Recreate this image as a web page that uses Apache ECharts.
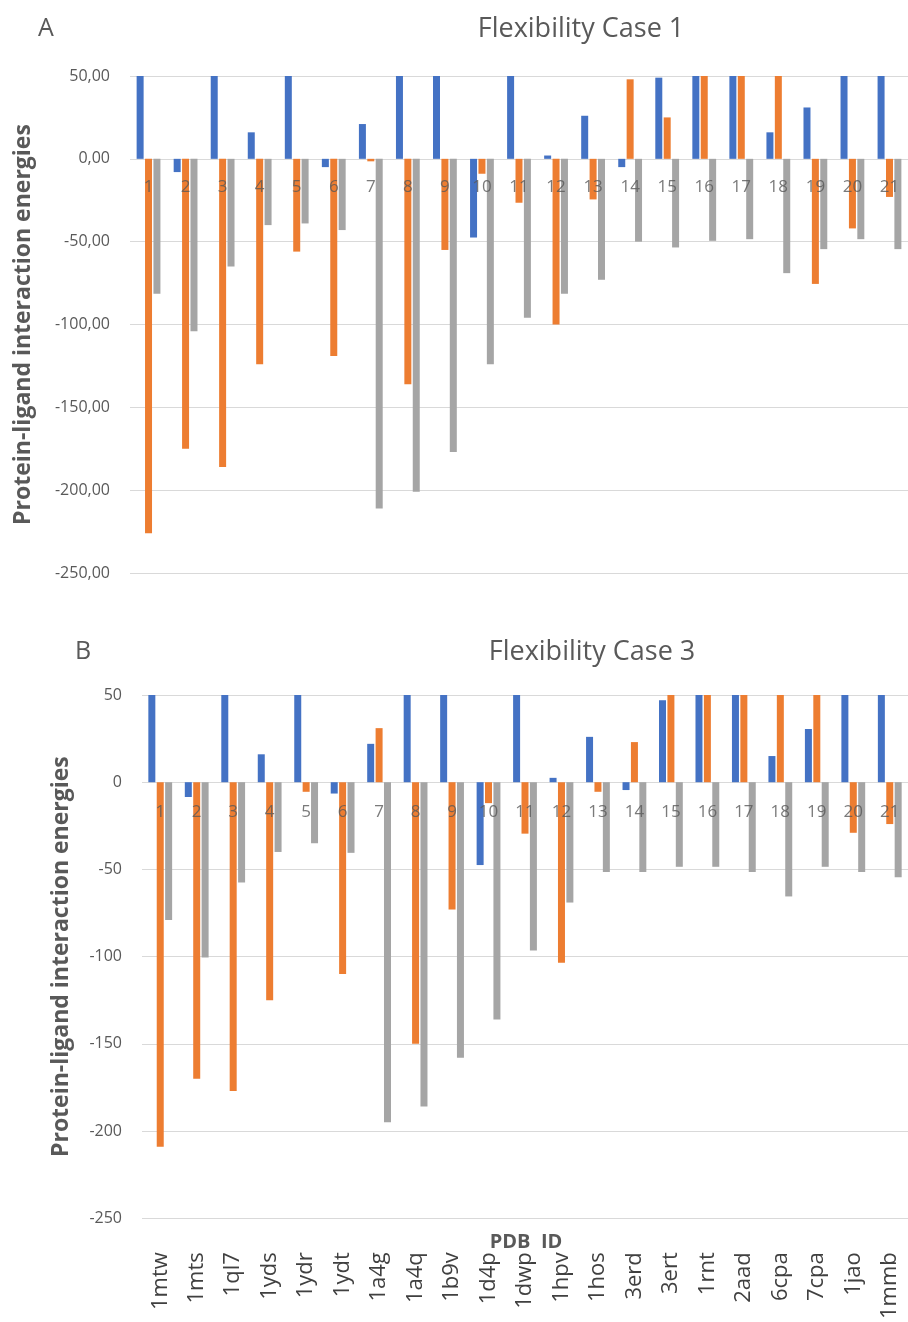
<!DOCTYPE html>
<html>
<head>
<meta charset="utf-8">
<script src="https://cdn.jsdelivr.net/npm/echarts@6.0.0/dist/echarts.min.js"></script>
<style>
  html, body { margin: 0; padding: 0; background: #fff; }
  #canvas { width: 908px; height: 1322px; }
</style>
</head>
<body>
<div id="canvas"></div>
<script>
var categories = ['1','2','3','4','5','6','7','8','9','10','11','12','13','14','15','16','17','18','19','20','21'];
var pdbIds = ['1mtw','1mts','1ql7','1yds','1ydr','1ydt','1a4g','1a4q','1b9v','1d4p','1dwp','1hpv','1hos','3erd','3ert','1rnt','2aad','6cpa','7cpa','1jao','1mmb'];
var yTicks = [-250, -200, -150, -100, -50, 0, 50];

// Flexibility Case 1 (bars above 50 are cut off by the axis)
var case1Blue = [50, -8, 50, 16, 50, -5, 21, 50, 50, -47.5, 50, 2, 26, -5, 49, 50, 50, 16, 31, 50, 50];
var case1Orange = [-226, -175, -186, -124, -56, -119, -1.5, -136, -55, -9, -26.5, -100, -24.5, 48, 25, 50, 50, 50, -75.5, -42, -23];
var case1Gray = [-81.5, -104, -65, -40, -39, -43, -211, -201, -177, -124, -96, -81.5, -73, -50, -53.5, -49.5, -48.5, -69, -54.5, -48.5, -54.5];

// Flexibility Case 3
var case3Blue = [50, -8.5, 50, 16, 50, -6.5, 22, 50, 50, -47.5, 50, 2.5, 26, -4.5, 47, 50, 50, 15, 30.5, 50, 50];
var case3Orange = [-209, -170, -177, -125, -5.5, -110, 31, -150, -73, -12, -29.5, -103.5, -5.5, 23, 50, 50, 50, 50, 50, -29, -24];
var case3Gray = [-79, -100.5, -57.5, -40, -35, -40.5, -195, -186, -158, -136, -96.5, -69, -51.5, -51.5, -48.5, -48.5, -51.5, -65.5, -48.5, -51.5, -54.5];

// the case numbers sit on the zero line
var zeroLine = categories.map(function() { return 0; });

var colors = ['#4472C4', '#ED7D31', '#A5A5A5'];
var font = '"Open Sans", sans-serif';
var textColor = '#595959';

var makeBars = function(values, idx, axisIdx) {
    return {
        type: 'bar',
        xAxisIndex: axisIdx,
        yAxisIndex: axisIdx,
        data: values,
        barWidth: 7,
        barGap: '20%',
        itemStyle: {color: colors[idx]},
        clip: true
    };
};

var makeNumbers = function(axisIdx, dist) {
    return {
        type: 'scatter',
        xAxisIndex: axisIdx,
        yAxisIndex: axisIdx,
        data: zeroLine,
        symbolSize: 1,
        itemStyle: {color: 'rgba(0,0,0,0)'},
        z: 10,
        silent: true,
        label: {
            show: true,
            position: 'bottom',
            distance: dist,
            formatter: '{b}',
            fontFamily: font,
            fontSize: 17,
            color: textColor
        }
    };
};

var makeYAxis = function(gridIdx, fmt, gap) {
    return {
        type: 'value',
        gridIndex: gridIdx,
        min: yTicks[0],
        max: yTicks[yTicks.length - 1],
        interval: 50,
        name: 'Protein-ligand interaction energies',
        nameLocation: 'middle',
        nameGap: gap,
        nameTextStyle: {fontFamily: font, fontSize: 23, fontWeight: 'bold', color: textColor},
        axisLine: {show: false},
        axisTick: {show: false},
        axisLabel: {fontFamily: font, fontSize: 16, color: textColor, margin: 20, formatter: fmt},
        splitLine: {lineStyle: {color: '#d9d9d9', width: 1}}
    };
};

var makeXAxis = function(gridIdx) {
    return {
        type: 'category',
        gridIndex: gridIdx,
        data: categories,
        axisLine: {show: false},
        axisTick: {show: false},
        axisLabel: {show: false}
    };
};

var myChart = echarts.init(document.getElementById('canvas'));

var pdbAxis = {
    type: 'category',
    gridIndex: 1,
    position: 'bottom',
    data: pdbIds,
    axisLine: {show: false, onZero: false},
    axisTick: {show: false},
    splitLine: {show: false},
    axisLabel: {fontFamily: font, fontSize: 22, color: '#404040', rotate: 90, margin: 34, interval: 0}
};

var option = {
    animation: false,
    backgroundColor: '#fff',
    grid: [
        {left: 130, right: 0, top: 76, height: 497},
        {left: 142, right: 0, top: 695, height: 526}
    ],
    xAxis: [makeXAxis(0), makeXAxis(1), pdbAxis],
    yAxis: [
        makeYAxis(0, function(v) { return v.toFixed(2).replace('.', ','); }, 95),
        makeYAxis(1, function(v) { return String(v); }, 69)
    ],
    graphic: [
        {type: 'text', left: 38, top: 16, style: {text: 'A', font: '25px ' + font, fill: textColor}},
        {type: 'text', x: 581, y: 29, style: {text: 'Flexibility Case 1', font: '27px ' + font, fill: textColor, textAlign: 'center', textVerticalAlign: 'middle'}},
        {type: 'text', left: 75, top: 639, style: {text: 'B', font: '25px ' + font, fill: textColor}},
        {type: 'text', x: 592, y: 652, style: {text: 'Flexibility Case 3', font: '27px ' + font, fill: textColor, textAlign: 'center', textVerticalAlign: 'middle'}},
        {type: 'text', x: 526, y: 1242, style: {text: 'PDB  ID', font: 'bold 20px ' + font, fill: textColor, textAlign: 'center', textVerticalAlign: 'middle'}}
    ],
    series: [
        makeBars(case1Blue, 0, 0),
        makeBars(case1Orange, 1, 0),
        makeBars(case1Gray, 2, 0),
        makeNumbers(0, 19),
        makeBars(case3Blue, 0, 1),
        makeBars(case3Orange, 1, 1),
        makeBars(case3Gray, 2, 1),
        makeNumbers(1, 21)
    ]
};
myChart.setOption(option);
</script>
</body>
</html>
